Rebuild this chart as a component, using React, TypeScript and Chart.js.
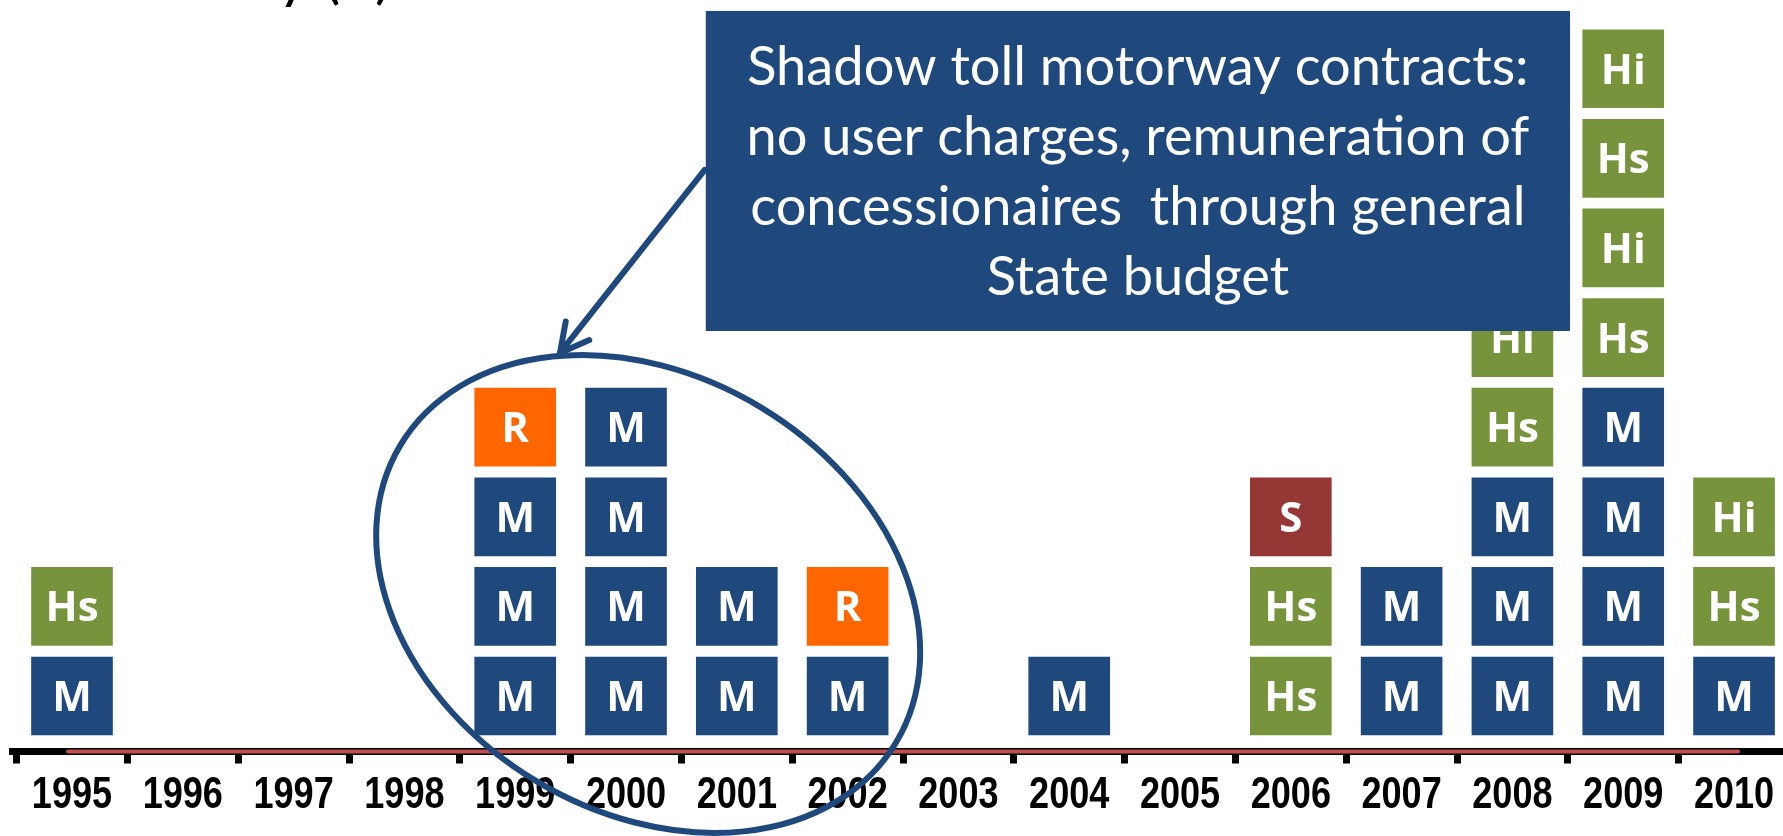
import React, { useEffect, useRef } from "react";
import { Chart, registerables } from "chart.js";

Chart.register(...registerables);

// ---------- data ----------
const YEARS = [
  "1995", "1996", "1997", "1998", "1999", "2000", "2001", "2002",
  "2003", "2004", "2005", "2006", "2007", "2008", "2009", "2010",
];

// contracts per year, listed bottom to top
const BOXES: string[][] = [
  ["M", "Hs"],
  [],
  [],
  [],
  ["M", "M", "M", "R"],
  ["M", "M", "M", "M"],
  ["M", "M"],
  ["M", "R"],
  [],
  ["M"],
  [],
  ["Hs", "Hs", "S"],
  ["M", "M"],
  ["M", "M", "M", "Hs", "Hi"],
  ["M", "M", "M", "M", "Hs", "Hi", "Hs", "Hi"],
  ["M", "Hs", "Hi"],
];

const TYPES = ["M", "Hs", "Hi", "R", "S"];

const CALLOUT_LINES = [
  "Shadow toll motorway contracts:",
  "no user charges, remuneration of",
  "concessionaires  through general",
  "State budget",
];

const TITLE_FRAGMENT = "y (2)";

// ---------- styles / layout ----------
const COLORS: Record<string, string> = {
  M: "#1F497D",
  Hs: "#77933C",
  Hi: "#77933C",
  R: "#FF6600",
  S: "#953735",
};
const BLUE = "#1F497D";
const AXIS_RED = "#C0504D";

const W = 1783;
const H = 836;
const BOX_LO = 0.184; // gap under a box, in stack units
const BOX_HI = 1.055; // top of a box, in stack units
const X_MIN = -0.5415;
const X_MAX = 15.442;
const Y_MAX = 8.387;

// annotations (data units)
const CALLOUT = { left: 5.72, right: 13.52, top: 8.265, bottom: 4.693 };
const ARROW = { x1: 5.71, y1: 6.49, x2: 4.404, y2: 4.448 };
const ELLIPSE = { cx: 5.2, cy: 1.758, rx: 289, ry: 218, rot: 31 };

function buildDatasets() {
  const sets: any[] = TYPES.map((t) => ({
    type: "bar",
    label: t,
    boxType: t,
    data: [] as any[],
    backgroundColor: COLORS[t],
    borderWidth: 0,
    grouped: false,
    barThickness: 81,
  }));
  BOXES.forEach((col, i) => {
    col.forEach((t, k) => {
      const ds = sets[TYPES.indexOf(t)];
      ds.data.push({ x: i, y: [k + BOX_LO, k + BOX_HI] });
    });
  });
  sets.push({
    type: "line",
    label: "axis",
    data: [
      { x: -0.036, y: 0 },
      { x: 15.036, y: 0 },
    ],
    borderColor: AXIS_RED,
    borderWidth: 4,
    borderCapStyle: "round",
    pointRadius: 0,
    clip: false,
  });
  return sets;
}

const decorPlugin = {
  id: "decor",
  afterDatasetsDraw(chart: any) {
    const ctx = chart.ctx;
    ctx.save();
    ctx.fillStyle = "#ffffff";
    ctx.font = 'bold 42px "Open Sans"';
    ctx.textAlign = "center";
    ctx.textBaseline = "alphabetic";
    const capH = ctx.measureText("M").actualBoundingBoxAscent;
    chart.data.datasets.forEach((ds: any, di: number) => {
      if (!ds.boxType) return;
      const meta = chart.getDatasetMeta(di);
      meta.data.forEach((el: any) => {
        const p = el.getProps(["x", "y", "base"], true);
        const cy = (p.y + p.base) / 2;
        ctx.fillText(ds.boxType, p.x, cy + capH / 2);
      });
    });
    ctx.restore();
  },
  afterDraw(chart: any) {
    const ctx = chart.ctx;
    const xs = chart.scales.x;
    const ys = chart.scales.y;
    ctx.save();

    // year labels (condensed bold), centred on each category of the x scale
    ctx.fillStyle = "#000000";
    ctx.textAlign = "center";
    ctx.textBaseline = "alphabetic";
    ctx.font = 'bold 44px "Liberation Sans"';
    const baseY = xs.top + 56.5;
    YEARS.forEach((label, i) => {
      const px = xs.getPixelForValue(i);
      ctx.save();
      ctx.translate(px, baseY);
      ctx.scale(0.82, 1);
      ctx.fillText(label, 0, 0);
      ctx.restore();
    });

    // ellipse
    ctx.strokeStyle = BLUE;
    ctx.lineWidth = 6;
    ctx.beginPath();
    ctx.ellipse(
      xs.getPixelForValue(ELLIPSE.cx),
      ys.getPixelForValue(ELLIPSE.cy),
      ELLIPSE.rx,
      ELLIPSE.ry,
      (ELLIPSE.rot * Math.PI) / 180,
      0,
      Math.PI * 2
    );
    ctx.stroke();

    // arrow
    const ax1 = xs.getPixelForValue(ARROW.x1);
    const ay1 = ys.getPixelForValue(ARROW.y1);
    const ax2 = xs.getPixelForValue(ARROW.x2);
    const ay2 = ys.getPixelForValue(ARROW.y2);
    ctx.lineWidth = 6;
    ctx.lineCap = "round";
    ctx.lineJoin = "round";
    ctx.beginPath();
    ctx.moveTo(ax1, ay1);
    ctx.lineTo(ax2, ay2);
    const ang = Math.atan2(ay1 - ay2, ax1 - ax2);
    const hl = 32;
    const spread = (28 * Math.PI) / 180;
    ctx.moveTo(ax2 + hl * Math.cos(ang - spread), ay2 + hl * Math.sin(ang - spread));
    ctx.lineTo(ax2, ay2);
    ctx.lineTo(ax2 + hl * Math.cos(ang + spread), ay2 + hl * Math.sin(ang + spread));
    ctx.stroke();

    // callout
    const cl = xs.getPixelForValue(CALLOUT.left);
    const cr = xs.getPixelForValue(CALLOUT.right);
    const ct = ys.getPixelForValue(CALLOUT.top);
    const cb = ys.getPixelForValue(CALLOUT.bottom);
    ctx.fillStyle = BLUE;
    ctx.fillRect(cl, ct, cr - cl, cb - ct);
    ctx.fillStyle = "#ffffff";
    ctx.textAlign = "center";
    ctx.textBaseline = "alphabetic";
    ctx.font = "100px Lato";
    const w100 = ctx.measureText(CALLOUT_LINES[0]).width;
    const fs = (100 * 782) / w100;
    ctx.font = `${fs.toFixed(1)}px Lato`;
    const mid = (cl + cr) / 2;
    CALLOUT_LINES.forEach((line, i) => {
      ctx.fillText(line, mid, ct + 74 + i * 70);
    });

    // cut-off title at the top
    ctx.fillStyle = "#000000";
    ctx.textAlign = "right";
    ctx.font = "60px Lato";
    ctx.fillText(TITLE_FRAGMENT, 391, -3);

    ctx.restore();
  },
};

export default function App() {
  const ref = useRef<HTMLCanvasElement | null>(null);

  useEffect(() => {
    let chart: Chart | null = null;
    let cancelled = false;
    const make = () => {
      if (cancelled || !ref.current) return;
      chart = new Chart(ref.current, {
        type: "bar",
        data: { datasets: buildDatasets() },
        options: {
          animation: false,
          responsive: false,
          events: [],
          layout: { padding: { left: 12, right: 0, top: 0, bottom: 0 } },
          plugins: {
            legend: { display: false },
            tooltip: { enabled: false },
            title: { display: false },
          },
          scales: {
            x: {
              type: "linear",
              min: X_MIN,
              max: X_MAX,
              offset: false,
              bounds: "data",
              grid: {
                display: true,
                offset: false,
                drawOnChartArea: false,
                drawTicks: true,
                tickLength: 12,
                tickWidth: 7,
                tickColor: "#000",
                lineWidth: 7,
                color: "#000",
              },
              border: { display: true, color: "#000", width: 7 },
              ticks: {
                display: false,
                autoSkip: false,
                maxRotation: 0,
                minRotation: 0,
              },
              afterBuildTicks: (scale: any) => {
                scale.ticks = YEARS.map((_, i) => ({ value: i - 0.5 }));
              },
              afterFit: (scale: any) => {
                scale.height = 84.5;
                scale.paddingLeft = 0;
                scale.paddingRight = 0;
              },
            },
            y: { display: false, min: 0, max: Y_MAX },
          },
        } as any,
        plugins: [decorPlugin],
      });
    };
    const fonts = (document as any).fonts;
    if (fonts && fonts.load) {
      Promise.all([
        fonts.load('bold 44px "Liberation Sans"'),
        fonts.load('bold 40px "Open Sans"'),
        fonts.load("50px Lato"),
      ])
        .catch(() => null)
        .then(make);
    } else {
      make();
    }
    return () => {
      cancelled = true;
      if (chart) chart.destroy();
    };
  }, []);

  return (
    <div
      style={{
        position: "fixed",
        left: 0,
        top: 0,
        width: W,
        height: H,
        background: "#ffffff",
        overflow: "hidden",
      }}
    >
      <canvas ref={ref} width={W} height={H} style={{ display: "block" }} />
    </div>
  );
}
